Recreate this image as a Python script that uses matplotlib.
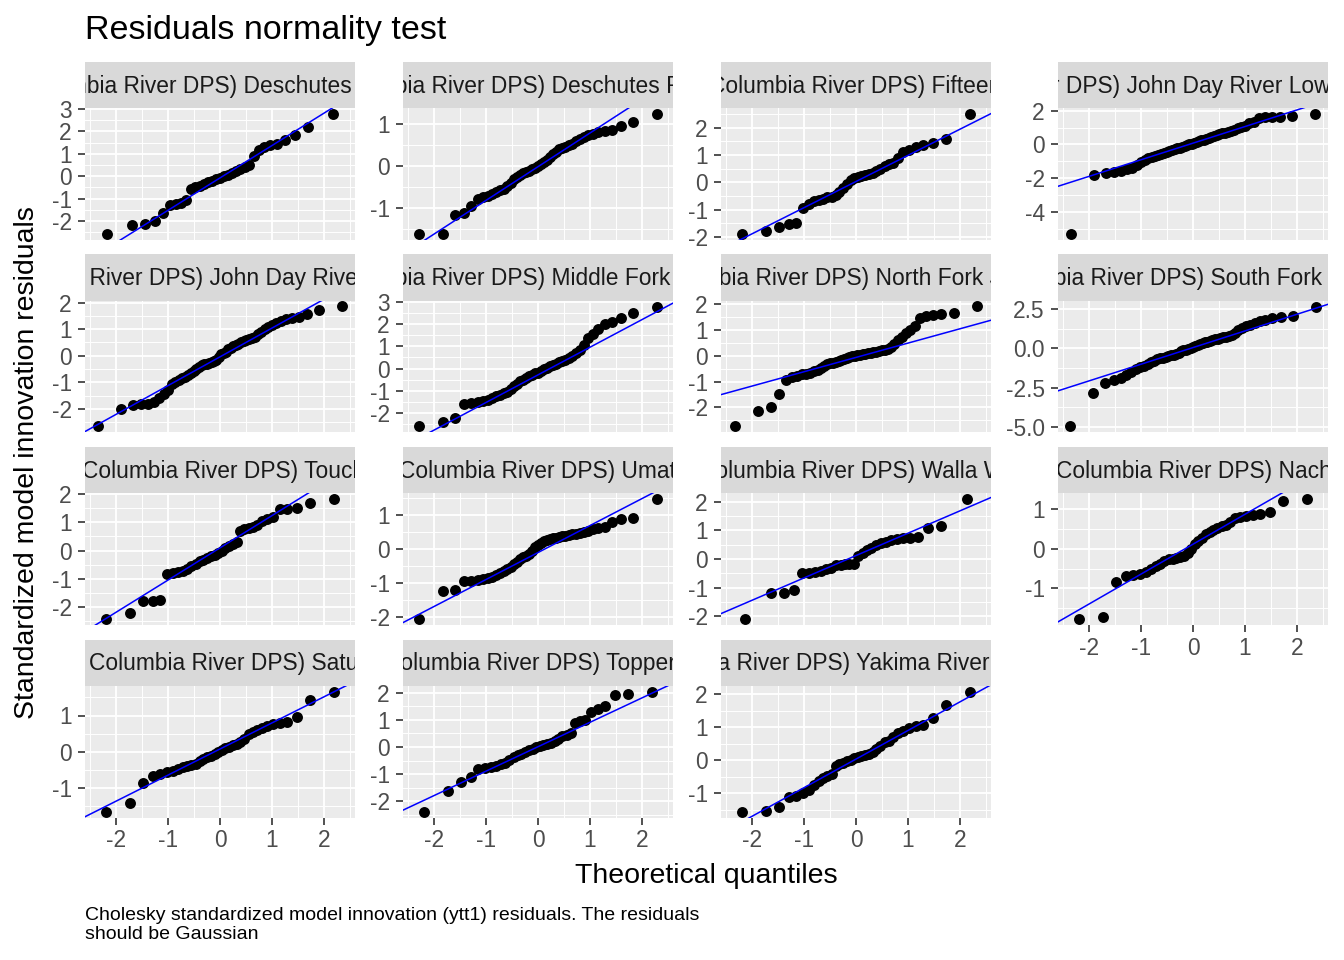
import statistics
import numpy as np
import matplotlib
matplotlib.use("Agg")
import matplotlib.pyplot as plt

plt.rcParams['font.family'] = ['Liberation Sans', 'DejaVu Sans']
plt.rcParams['axes.unicode_minus'] = False

# facet labels (long, clipped by the strip like in ggplot)
prefix = "Steelhead (Middle Columbia River DPS) "
populations = [
    "Deschutes River Eastside (summer)",
    "Deschutes River - Westside (summer)",
    "Fifteenmile Creek (winter)",
    "John Day River Lower Mainstem Tributaries (summer)",
    "John Day River Upper Mainstem (summer)",
    "Middle Fork John Day River (summer)",
    "North Fork John Day River (summer)",
    "South Fork John Day River (summer)",
    "Touchet River (summer)",
    "Umatilla River (summer)",
    "Walla Walla River (summer)",
    "Naches River (summer)",
    "Satus Creek (summer)",
    "Toppenish Creek (summer)",
    "Yakima River Upper Mainstem (summer)",
]

# sorted standardized residuals
res_deschutes_e = [-2.58, -2.16, -2.12, -2.00, -1.62, -1.28, -1.24, -1.18, -1.05, -0.56,
                   -0.50, -0.42, -0.34, -0.27, -0.20, -0.13, -0.06, 0.00, 0.06, 0.14,
                   0.24, 0.34, 0.40, 0.50, 0.90, 1.16, 1.30, 1.40, 1.46, 1.62,
                   1.86, 2.20, 2.78]
res_deschutes_w = [-1.63, -1.62, -1.17, -1.12, -0.95, -0.78, -0.74, -0.72, -0.68, -0.62,
                   -0.58, -0.56, -0.48, -0.40, -0.32, -0.26, -0.21, -0.17, -0.14, -0.12,
                   -0.08, -0.04, 0.00, 0.05, 0.10, 0.15, 0.22, 0.28, 0.35, 0.40,
                   0.44, 0.47, 0.50, 0.53, 0.60, 0.66, 0.70, 0.74, 0.78, 0.81,
                   0.84, 0.86, 0.96, 1.05, 1.25]
res_fifteenmile = [-1.89, -1.77, -1.65, -1.52, -1.50, -0.93, -0.78, -0.70, -0.66, -0.60,
                   -0.55, -0.52, -0.45, -0.35, -0.20, -0.05, 0.08, 0.15, 0.20, 0.24,
                   0.28, 0.30, 0.35, 0.40, 0.50, 0.60, 0.66, 0.72, 0.90, 1.10,
                   1.20, 1.28, 1.35, 1.45, 1.60, 2.50]
res_jd_lower = [-5.30, -1.81, -1.72, -1.66, -1.56, -1.48, -1.40, -1.20, -1.05, -0.92,
                -0.83, -0.75, -0.68, -0.60, -0.55, -0.50, -0.44, -0.38, -0.33, -0.28,
                -0.24, -0.20, -0.15, -0.10, -0.05, 0.00, 0.05, 0.10, 0.14, 0.19,
                0.24, 0.28, 0.33, 0.38, 0.44, 0.50, 0.56, 0.62, 0.66, 0.70,
                0.75, 0.82, 0.88, 0.95, 1.02, 1.10, 1.25, 1.32, 1.55, 1.60,
                1.61, 1.62, 1.70, 1.80]
res_jd_upper = [-2.65, -2.00, -1.85, -1.82, -1.80, -1.72, -1.60, -1.45, -1.30, -1.05,
                -0.98, -0.92, -0.85, -0.78, -0.72, -0.66, -0.58, -0.50, -0.42, -0.36,
                -0.32, -0.29, -0.26, -0.22, -0.20, -0.15, -0.05, 0.05, 0.10, 0.16,
                0.24, 0.30, 0.35, 0.40, 0.45, 0.50, 0.55, 0.60, 0.63, 0.66,
                0.70, 0.80, 0.90, 1.00, 1.08, 1.15, 1.22, 1.30, 1.38, 1.43,
                1.47, 1.55, 1.72, 1.85]
res_middle_fork = [-2.60, -2.38, -2.22, -1.60, -1.55, -1.50, -1.45, -1.40, -1.32, -1.25,
                   -1.20, -1.12, -1.05, -0.90, -0.78, -0.68, -0.58, -0.50, -0.42, -0.35,
                   -0.28, -0.22, -0.18, -0.10, -0.03, 0.03, 0.10, 0.15, 0.20, 0.28,
                   0.34, 0.40, 0.45, 0.55, 0.70, 0.85, 1.05, 1.35, 1.55, 1.75,
                   2.00, 2.08, 2.28, 2.50, 2.78]
res_north_fork = [-2.74, -2.15, -2.00, -1.47, -0.95, -0.82, -0.76, -0.72, -0.70, -0.66,
                  -0.60, -0.53, -0.45, -0.38, -0.33, -0.29, -0.26, -0.23, -0.20, -0.16,
                  -0.12, -0.08, -0.05, -0.02, 0.01, 0.03, 0.05, 0.07, 0.09, 0.11,
                  0.13, 0.15, 0.17, 0.20, 0.22, 0.25, 0.28, 0.33, 0.45, 0.60,
                  0.75, 0.88, 1.00, 1.18, 1.48, 1.55, 1.60, 1.62, 1.66, 1.92]
res_south_fork = [-4.98, -2.87, -2.20, -2.05, -1.90, -1.70, -1.50, -1.35, -1.20, -1.10,
                  -1.00, -0.90, -0.80, -0.70, -0.64, -0.59, -0.54, -0.49, -0.45, -0.40,
                  -0.35, -0.28, -0.20, -0.14, -0.08, -0.02, 0.03, 0.08, 0.14, 0.20,
                  0.26, 0.32, 0.37, 0.42, 0.47, 0.52, 0.57, 0.62, 0.66, 0.70,
                  0.74, 0.78, 0.86, 1.00, 1.15, 1.28, 1.40, 1.50, 1.62, 1.72,
                  1.80, 1.92, 2.02, 2.04, 2.66]
res_touchet = [-2.43, -2.21, -1.80, -1.78, -1.76, -0.85, -0.80, -0.76, -0.72, -0.66,
               -0.56, -0.46, -0.38, -0.32, -0.26, -0.21, -0.16, -0.10, 0.00, 0.08,
               0.16, 0.24, 0.30, 0.70, 0.76, 0.80, 0.85, 0.92, 1.05, 1.12,
               1.20, 1.46, 1.48, 1.50, 1.69, 1.83]
res_umatilla = [-2.06, -1.24, -1.22, -0.95, -0.93, -0.90, -0.87, -0.85, -0.82, -0.78,
                -0.72, -0.64, -0.58, -0.52, -0.45, -0.38, -0.30, -0.25, -0.20, -0.15,
                -0.05, 0.05, 0.12, 0.18, 0.22, 0.26, 0.29, 0.31, 0.33, 0.35,
                0.37, 0.39, 0.41, 0.43, 0.45, 0.48, 0.51, 0.54, 0.58, 0.62,
                0.66, 0.78, 0.88, 0.91, 1.47]
res_walla_walla = [-2.09, -1.20, -1.18, -1.07, -0.50, -0.48, -0.46, -0.42, -0.36, -0.30,
                   -0.22, -0.20, -0.19, -0.18, -0.16, 0.10, 0.20, 0.30, 0.40, 0.50,
                   0.55, 0.60, 0.66, 0.70, 0.72, 0.74, 0.76, 1.08, 1.16, 2.09]
res_naches = [-1.77, -1.72, -0.83, -0.70, -0.66, -0.63, -0.58, -0.50, -0.44, -0.38,
              -0.30, -0.27, -0.25, -0.23, -0.21, -0.18, -0.12, 0.00, 0.12, 0.20,
              0.28, 0.36, 0.42, 0.48, 0.52, 0.56, 0.60, 0.68, 0.76, 0.80,
              0.83, 0.85, 0.88, 0.93, 1.21, 1.25]
res_satus = [-1.64, -1.40, -0.86, -0.65, -0.62, -0.56, -0.52, -0.47, -0.42, -0.40,
             -0.36, -0.32, -0.26, -0.20, -0.15, -0.10, -0.05, 0.00, 0.05, 0.10,
             0.14, 0.18, 0.22, 0.26, 0.35, 0.50, 0.55, 0.60, 0.66, 0.72,
             0.76, 0.80, 0.82, 0.95, 1.43, 1.66]
res_toppenish = [-2.37, -1.63, -1.30, -1.09, -0.82, -0.77, -0.74, -0.68, -0.64, -0.58,
                 -0.48, -0.38, -0.30, -0.24, -0.18, -0.12, -0.06, 0.00, 0.04, 0.08,
                 0.12, 0.16, 0.22, 0.30, 0.40, 0.45, 0.52, 0.90, 0.94, 1.00,
                 1.30, 1.40, 1.50, 1.91, 1.93, 2.04]
res_yakima = [-1.55, -1.53, -1.42, -1.10, -1.07, -1.00, -0.90, -0.75, -0.62, -0.52,
              -0.47, -0.40, -0.18, -0.12, -0.08, -0.03, 0.02, 0.06, 0.10, 0.13,
              0.16, 0.20, 0.25, 0.35, 0.45, 0.55, 0.60, 0.70, 0.82, 0.90,
              0.97, 1.03, 1.08, 1.28, 1.68, 2.09]

residuals = [res_deschutes_e, res_deschutes_w, res_fifteenmile, res_jd_lower, res_jd_upper,
             res_middle_fork, res_north_fork, res_south_fork, res_touchet, res_umatilla,
             res_walla_walla, res_naches, res_satus, res_toppenish, res_yakima]

yticks = [[-2, -1, 0, 1, 2, 3], [-1, 0, 1], [-2, -1, 0, 1, 2], [-4, -2, 0, 2],
          [-2, -1, 0, 1, 2], [-2, -1, 0, 1, 2, 3], [-2, -1, 0, 1, 2], [-5.0, -2.5, 0.0, 2.5],
          [-2, -1, 0, 1, 2], [-2, -1, 0, 1], [-2, -1, 0, 1, 2], [-1, 0, 1],
          [-1, 0, 1], [-2, -1, 0, 1, 2], [-1, 0, 1, 2]]
xticks = [-2, -1, 0, 1, 2]

title = "Residuals normality test"
xlabel = "Theoretical quantiles"
ylabel = "Standardized model innovation residuals"
caption = ("Cholesky standardized model innovation (ytt1) residuals. The residuals\n"
           "should be Gaussian")

nd = statistics.NormalDist()


def theoretical(n):
    # same as R's ppoints() for n > 10
    return np.array([nd.inv_cdf((i - 0.5) / n) for i in range(1, n + 1)])


def expand(lo, hi, f=0.05):
    d = (hi - lo) * f
    return lo - d, hi + d


def minor_of(major, lims):
    step = major[1] - major[0]
    m = np.arange(major[0] - step / 2, major[-1] + step, step)
    return [v for v in m if lims[0] <= v <= lims[1]]


W, H = 1344, 960
fig = plt.figure(figsize=(W / 100, H / 100), dpi=100)

col_left = [85, 403, 721, 1058]
strip_top = [62, 254.5, 447, 639.5]
panel_w, strip_h, panel_h = 270, 46, 132

all_x = np.concatenate([theoretical(len(r)) for r in residuals])
xlim = expand(all_x.min(), all_x.max())

qx = np.array([nd.inv_cdf(0.25), nd.inv_cdf(0.75)])

for k, (name, res) in enumerate(zip(populations, residuals)):
    row, col = divmod(k, 4)
    left, top = col_left[col], strip_top[row]
    ax = fig.add_axes([left / W, 1 - (top + strip_h + panel_h) / H, panel_w / W, panel_h / H])
    sax = fig.add_axes([left / W, 1 - (top + strip_h) / H, panel_w / W, strip_h / H])

    y = np.array(res)
    x = theoretical(len(y))
    qy = np.quantile(y, [0.25, 0.75])
    slope = (qy[1] - qy[0]) / (qx[1] - qx[0])
    icpt = qy[0] - slope * qx[0]

    ylim = expand(y.min(), y.max())
    ax.set_facecolor('#EBEBEB')
    for s in ax.spines.values():
        s.set_visible(False)
    ax.scatter(x, y, s=62, color='black', linewidths=0, zorder=3)
    lx = np.array(xlim)
    ax.plot(lx, icpt + slope * lx, color='blue', lw=1.1, zorder=4)
    ax.set_xlim(xlim)
    ax.set_ylim(ylim)

    yt = yticks[k]
    ax.set_yticks(yt)
    ax.set_yticks(minor_of(yt, ylim), minor=True)
    if all(float(v).is_integer() for v in yt):
        ax.set_yticklabels([f"{int(v)}" for v in yt])
    else:
        ax.set_yticklabels([f"{v:.1f}" for v in yt])
    ax.set_xticks(xticks)
    ax.set_xticks(minor_of(xticks, xlim), minor=True)
    ax.set_xticklabels([f"{v}" for v in xticks])
    ax.grid(which='major', color='white', lw=1.3)
    ax.grid(which='minor', color='white', lw=0.7)
    ax.set_axisbelow(True)
    ax.tick_params(which='minor', length=0)
    ax.tick_params(axis='y', which='major', length=5, width=1.2, color='#333333',
                   labelsize=16.4, labelcolor='#4D4D4D', pad=4.5)
    bottom = (row == 3) or (col == 3 and row == 2)
    if bottom:
        ax.tick_params(axis='x', which='major', length=5, width=1.2, color='#333333',
                       labelsize=16.4, labelcolor='#4D4D4D', pad=3.5)
    else:
        ax.tick_params(axis='x', which='major', length=0, labelbottom=False)

    sax.set_facecolor('#D9D9D9')
    sax.set_xticks([])
    sax.set_yticks([])
    for s in sax.spines.values():
        s.set_visible(False)
    t = sax.text(0.5, 0.47, prefix + name, ha='center', va='center', transform=sax.transAxes,
                 fontsize=16.4, color='#1A1A1A', clip_on=True)
    t.set_clip_path(sax.patch)

fig.text(85 / W, 1 - 31 / H, title, ha='left', va='center', fontsize=24.5, color='black')
fig.text(706 / W, 1 - 876 / H, xlabel, ha='center', va='center', fontsize=20.5, color='black')
fig.text(27 / W, 1 - 463 / H, ylabel, ha='center', va='center', rotation=90,
         fontsize=20.5, color='black')
fig.text(85 / W, 1 - 925 / H, caption, ha='left', va='center', fontsize=14,
         linespacing=1.2, color='black')

fig.savefig("out.png", dpi=100)
